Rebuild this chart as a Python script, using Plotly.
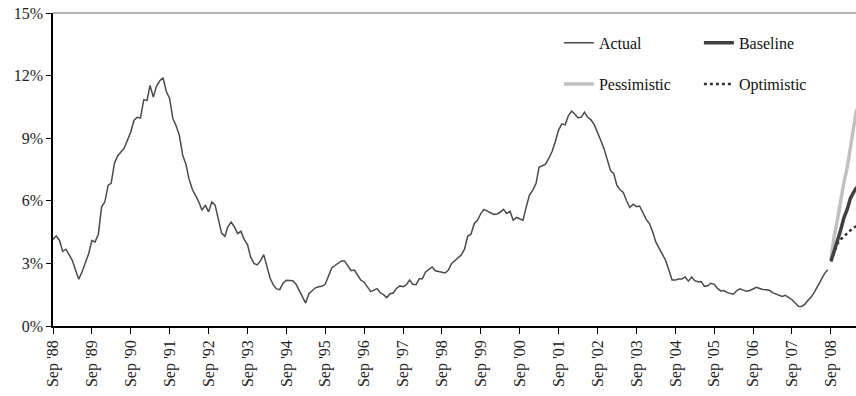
import plotly.graph_objects as go
import pandas as pd

# ---- data ----
actual_start = "1988-09-01"
actual_values = [
    4.15, 4.32, 4.10, 3.58, 3.68, 3.39, 3.15, 2.67, 2.24, 2.60, 3.05, 3.45,   # Sep88-Aug89
    4.10, 4.03, 4.40, 5.70, 5.95, 6.75, 6.84, 7.80, 8.15, 8.36, 8.52, 8.90,   # Sep89-Aug90
    9.30, 9.85, 10.00, 9.96, 10.84, 10.81, 11.53, 10.97, 11.50, 11.75, 11.90, 11.24,  # Sep90-Aug91
    10.90, 9.95, 9.60, 9.15, 8.20, 7.75, 7.05, 6.55, 6.25, 5.95, 5.55, 5.79,  # Sep91-Aug92
    5.47, 5.95, 5.79, 5.10, 4.45, 4.30, 4.75, 4.98, 4.75, 4.43, 4.54, 4.15,   # Sep92-Aug93
    3.90, 3.30, 3.00, 2.93, 3.12, 3.42, 2.85, 2.30, 1.97, 1.78, 1.74, 2.05,   # Sep93-Aug94
    2.19, 2.19, 2.17, 2.00, 1.70, 1.35, 1.10, 1.55, 1.70, 1.83, 1.88, 1.90,   # Sep94-Aug95
    2.00, 2.40, 2.78, 2.90, 3.02, 3.12, 3.12, 2.90, 2.65, 2.68, 2.45, 2.20,   # Sep95-Aug96
    2.10, 1.85, 1.65, 1.72, 1.79, 1.58, 1.50, 1.36, 1.55, 1.58, 1.80, 1.92,   # Sep96-Aug97
    1.88, 1.97, 2.20, 2.00, 1.98, 2.27, 2.27, 2.59, 2.70, 2.83, 2.65, 2.60,   # Sep97-Aug98
    2.58, 2.54, 2.68, 3.00, 3.15, 3.26, 3.40, 3.68, 4.30, 4.40, 4.90, 5.07,   # Sep98-Aug99
    5.39, 5.59, 5.50, 5.40, 5.35, 5.37, 5.45, 5.59, 5.39, 5.50, 5.07, 5.20,   # Sep99-Aug00
    5.15, 5.07, 5.71, 6.27, 6.51, 6.84, 7.61, 7.67, 7.76, 8.04, 8.36, 8.84,   # Sep00-Aug01
    9.40, 9.69, 9.64, 10.07, 10.30, 10.15, 9.98, 10.00, 10.25, 10.00, 9.88, 9.65,  # Sep01-Aug02
    9.30, 8.90, 8.50, 8.00, 7.45, 7.30, 6.75, 6.53, 6.40, 6.00, 5.68, 5.84,   # Sep02-Aug03
    5.72, 5.75, 5.40, 5.12, 4.91, 4.51, 4.03, 3.71, 3.39, 3.15, 2.70, 2.20,   # Sep03-Aug04
    2.20, 2.25, 2.25, 2.35, 2.15, 2.35, 2.17, 2.12, 2.13, 1.90, 1.93, 2.05,   # Sep04-Aug05
    2.00, 1.80, 1.68, 1.70, 1.60, 1.56, 1.52, 1.70, 1.78, 1.72, 1.67, 1.70,   # Sep05-Aug06
    1.78, 1.85, 1.80, 1.75, 1.74, 1.71, 1.60, 1.55, 1.47, 1.42, 1.47, 1.36,   # Sep06-Aug07
    1.26, 1.10, 0.95, 0.94, 1.05, 1.25, 1.40, 1.65, 1.95, 2.20, 2.50, 2.70,   # Sep07-Aug08
]
forecast_start = "2008-09-01"
baseline = [3.10, 3.55, 4.10, 4.60, 5.20, 5.60, 6.10, 6.40, 6.65]
pessimistic = [3.20, 4.30, 5.10, 6.00, 6.90, 7.60, 8.60, 9.50, 10.40]
optimistic = [3.10, 3.50, 3.95, 4.15, 4.30, 4.45, 4.60, 4.72, 4.78]

tick_years = list(range(1988, 2009))
tick_labels = ["Sep '%02d" % (y % 100) for y in tick_years]
y_ticks = [0, 3, 6, 9, 12, 15]
y_labels = ["%d%%" % v for v in y_ticks]

# ---- build ----
actual_dates = pd.date_range(actual_start, periods=len(actual_values), freq="MS")
fc_dates = pd.date_range(forecast_start, periods=len(baseline), freq="MS")
tick_vals = [pd.Timestamp(year=y, month=9, day=1) for y in tick_years]

FONT = "Liberation Serif"
fig = go.Figure()
fig.add_trace(go.Scatter(x=fc_dates, y=pessimistic, mode="lines", name="Pessimistic",
                         line=dict(color="#c0c0c0", width=3.5), legend="legend2", legendrank=1))
fig.add_trace(go.Scatter(x=fc_dates, y=optimistic, mode="lines", name="Optimistic",
                         line=dict(color="#333333", width=2.5, dash="dot"), legend="legend2", legendrank=2))
fig.add_trace(go.Scatter(x=fc_dates, y=baseline, mode="lines", name="Baseline",
                         line=dict(color="#404040", width=3.5), legend="legend", legendrank=2))
fig.add_trace(go.Scatter(x=actual_dates, y=actual_values, mode="lines", name="Actual",
                         line=dict(color="#4a4a4a", width=1.5), legend="legend", legendrank=1))

leg_common = dict(orientation="h", xanchor="left", yanchor="middle", bgcolor="rgba(0,0,0,0)",
                  font=dict(family=FONT, size=16, color="#111"), entrywidth=95,
                  entrywidthmode="pixels", traceorder="normal")

fig.update_layout(
    width=856, height=396,
    margin=dict(l=53, r=0, t=13, b=70),
    paper_bgcolor="white", plot_bgcolor="white",
    font=dict(family=FONT, size=16, color="#222"),
    showlegend=True,
    legend=dict(x=0.63, y=0.905, **leg_common),
    legend2=dict(x=0.63, y=0.773, **leg_common),
    xaxis=dict(
        type="date",
        range=["1988-09-01", "2009-04-24"],
        tickmode="array", tickvals=tick_vals, ticktext=tick_labels,
        tickangle=-90, ticks="outside", ticklen=6, tickcolor="#000",
        showline=True, linecolor="#000", linewidth=1.5,
        showgrid=False, zeroline=False,
        tickfont=dict(family=FONT, size=16, color="#222"),
    ),
    yaxis=dict(
        range=[0, 15], tickmode="array", tickvals=y_ticks, ticktext=y_labels,
        ticks="outside", ticklen=5, tickcolor="#000",
        showline=True, linecolor="#000", linewidth=1.5,
        showgrid=False, zeroline=False,
        tickfont=dict(family=FONT, size=16, color="#222"),
    ),
    shapes=[dict(type="line", xref="paper", yref="paper", x0=0, x1=1, y0=1, y1=1,
                 line=dict(color="#999999", width=1.5))],
)

fig.write_html("out.html")
